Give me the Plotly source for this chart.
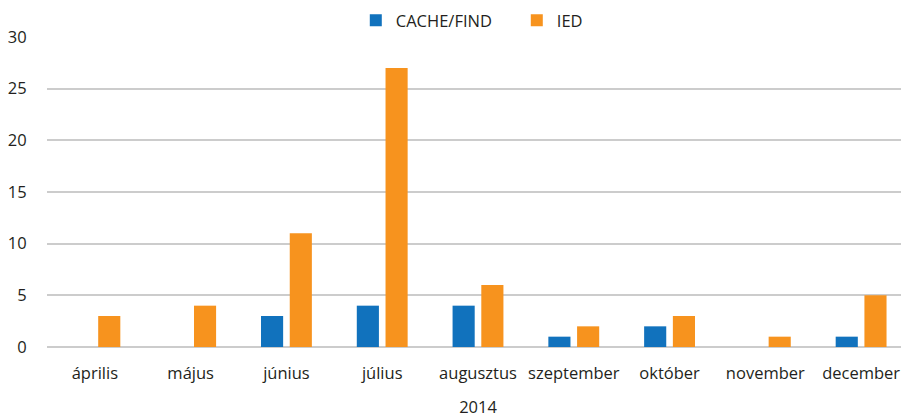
import plotly.graph_objects as go

months = ["április", "május", "június", "július", "augusztus",
          "szeptember", "október", "november", "december"]
cache_find = [0, 0, 3, 4, 4, 1, 2, 0, 1]
ied = [3, 4, 11, 27, 6, 2, 3, 1, 5]
y_ticks = [0, 5, 10, 15, 20, 25, 30]

text_color = "#231F20"
font = dict(family="Open Sans, Noto Sans, sans-serif", size=16.5, color=text_color)

fig = go.Figure()
fig.add_trace(go.Bar(name="CACHE/FIND", x=months, y=cache_find,
                     marker=dict(color="#1172BD", line=dict(width=0))))
fig.add_trace(go.Bar(name="IED", x=months, y=ied,
                     marker=dict(color="#F7931E", line=dict(width=0))))

fig.update_layout(
    width=909, height=420,
    margin=dict(l=39, r=8, t=29, b=81, autoexpand=False),
    paper_bgcolor="white", plot_bgcolor="white",
    barmode="group", bargap=0.4, bargroupgap=0.23,
    font=font,
    legend=dict(orientation="h", x=0.545, xanchor="center",
                yref="container", y=0.970, yanchor="middle",
                font=dict(size=16.5, color=text_color), itemwidth=30,
                entrywidth=116, traceorder="normal"),
    xaxis=dict(showgrid=False, showline=False, zeroline=False, automargin=False,
               ticks="outside", ticklen=11, tickcolor="rgba(0,0,0,0)",
               title=dict(text="2014", standoff=18, font=dict(size=16.5, color=text_color))),
    yaxis=dict(range=[0, 30], tickvals=y_ticks, showgrid=True, automargin=False,
               gridcolor="#cccccc", gridwidth=1.5, zeroline=True,
               zerolinecolor="#cccccc", zerolinewidth=1.5,
               ticks="outside", ticklen=16, tickcolor="rgba(0,0,0,0)"),
)

fig.write_html("out.html")
